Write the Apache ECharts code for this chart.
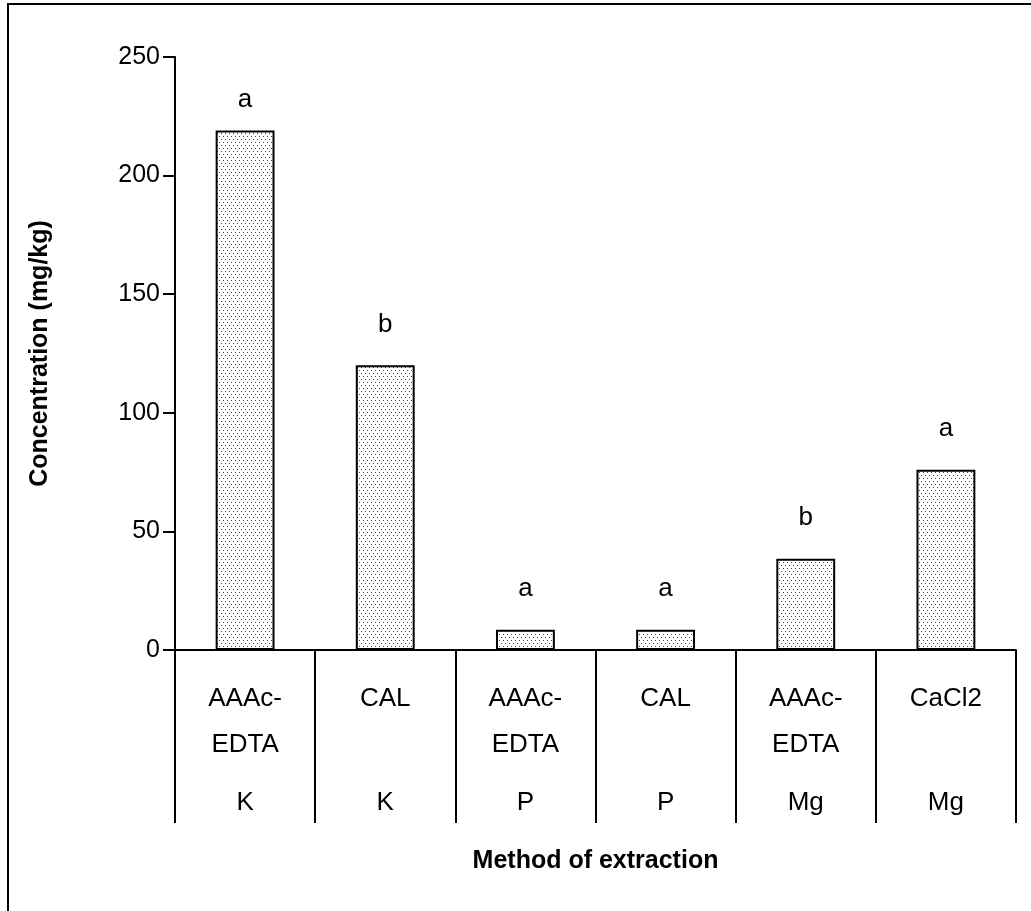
<!DOCTYPE html>
<html>
<head>
<meta charset="utf-8">
<script src="https://cdn.jsdelivr.net/npm/echarts@6/dist/echarts.min.js"></script>
<style>
html,body{margin:0;padding:0;background:#fff;}
#chart{width:1031px;height:911px;}
</style>
</head>
<body>
<div id="chart"></div>
<script>
const methods = ['AAAc-\nEDTA', 'CAL', 'AAAc-\nEDTA', 'CAL', 'AAAc-\nEDTA', 'CaCl2'];
const nutrients = ['K', 'K', 'P', 'P', 'Mg', 'Mg'];
const concentration = [219, 120, 8.5, 8.5, 38.5, 76];
const letters = ['a', 'b', 'a', 'a', 'b', 'a'];
const yTicks = [0, 50, 100, 150, 200, 250];

// dotted fill pattern
const tile = document.createElement('canvas');
tile.width = 4; tile.height = 6;
const tc = tile.getContext('2d');
tc.fillStyle = '#ffffff';
tc.fillRect(0, 0, 4, 6);
tc.fillStyle = '#444444';
tc.fillRect(1, 1, 1, 1);
tc.fillRect(3, 4, 1, 1);

const FONT = '"Liberation Sans", Arial, sans-serif';
const chart = echarts.init(document.getElementById('chart'), null, {renderer: 'canvas'});
const cats = methods.map((m, i) => i);

chart.setOption({
  animation: false,
  backgroundColor: '#fff',
  textStyle: {fontFamily: FONT, color: '#000'},
  grid: {left: 175, right: 15, top: 57, bottom: 261, containLabel: false},
  graphic: [{
    type: 'rect',
    shape: {x: 8, y: 4, width: 1200, height: 1200},
    style: {fill: 'none', stroke: '#000', lineWidth: 2},
    z: 100
  }],
  xAxis: [{
    type: 'category',
    data: cats,
    position: 'bottom',
    axisLine: {lineStyle: {color: '#000', width: 2}},
    axisTick: {show: true, length: 173, lineStyle: {color: '#000', width: 2}},
    axisLabel: {
      formatter: (v) => methods[v],
      fontSize: 26, lineHeight: 46, margin: 26, color: '#000', fontFamily: FONT
    },
    name: 'Method of extraction',
    nameLocation: 'middle',
    nameGap: 199,
    nameTextStyle: {fontSize: 25, fontWeight: 'bold', color: '#000', fontFamily: FONT}
  }, {
    type: 'category',
    data: cats,
    position: 'bottom',
    axisLine: {show: false},
    axisTick: {show: false},
    axisLabel: {
      formatter: (v) => nutrients[v],
      fontSize: 26, lineHeight: 28, margin: 139, color: '#000', fontFamily: FONT
    }
  }],
  yAxis: {
    type: 'value',
    min: 0, max: 250, interval: 50,
    axisLine: {show: true, lineStyle: {color: '#000', width: 2}},
    axisTick: {show: true, length: 12, lineStyle: {color: '#000', width: 2}},
    splitLine: {show: false},
    axisLabel: {
      fontSize: 25, margin: 15, color: '#000', fontFamily: FONT,
      formatter: (v) => yTicks.includes(v) ? String(v) : ''
    },
    name: 'Concentration (mg/kg)',
    nameLocation: 'middle',
    nameGap: 122,
    nameTextStyle: {fontSize: 25, fontWeight: 'bold', color: '#000', fontFamily: FONT}
  },
  series: [{
    type: 'bar',
    data: concentration.map((v, i) => i === 0 ? {value: v, label: {distance: 18}} : v),
    xAxisIndex: 0,
    barWidth: '42%',
    itemStyle: {
      color: {image: tile, repeat: 'repeat'},
      borderColor: '#000',
      borderWidth: 2
    },
    label: {
      show: true,
      position: 'top',
      distance: 28,
      fontSize: 26,
      color: '#000',
      fontFamily: FONT,
      formatter: (p) => letters[p.dataIndex]
    }
  }]
});
</script>
</body>
</html>
